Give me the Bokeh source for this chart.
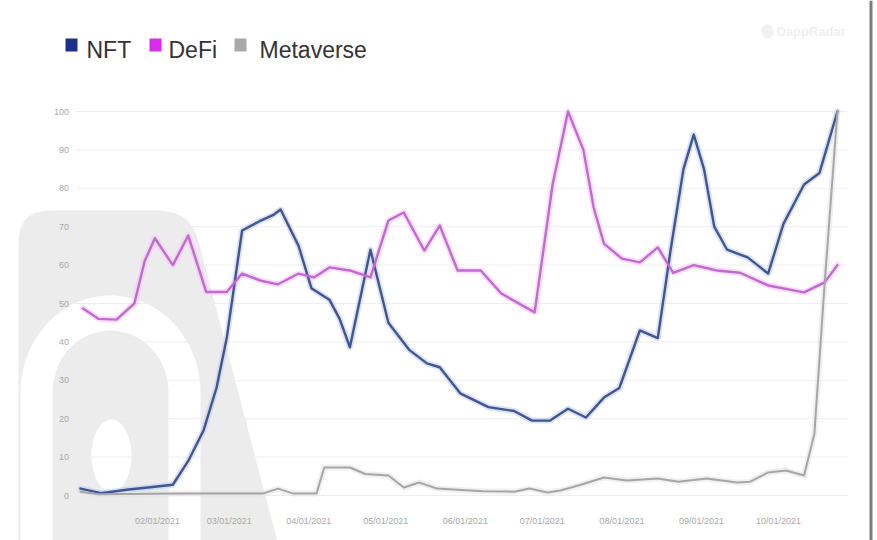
import numpy as np
import pandas as pd
from bokeh.plotting import figure
from bokeh.models import Range1d, PolyAnnotation, Label, ColumnDataSource
from bokeh.core.properties import value
from bokeh.embed import file_html
from bokeh.resources import INLINE

# ---- data: relative interest index (0-100), 2021 ----
nft_dates = ["2021-01-02", "2021-01-10", "2021-01-20", "2021-01-30", "2021-02-07",
             "2021-02-13", "2021-02-19", "2021-02-24", "2021-02-28", "2021-03-03",
             "2021-03-06", "2021-03-13", "2021-03-18", "2021-03-21", "2021-03-28",
             "2021-04-02", "2021-04-09", "2021-04-13", "2021-04-17", "2021-04-25",
             "2021-05-02", "2021-05-10", "2021-05-17", "2021-05-22", "2021-05-30",
             "2021-06-10", "2021-06-20", "2021-06-27", "2021-07-04", "2021-07-11",
             "2021-07-18", "2021-07-25", "2021-07-31", "2021-08-08", "2021-08-15",
             "2021-08-20", "2021-08-25", "2021-08-29", "2021-09-02", "2021-09-06",
             "2021-09-11", "2021-09-19", "2021-09-27", "2021-10-03", "2021-10-11",
             "2021-10-17", "2021-10-24"]
nft_values = [1.8, 0.6, 1.5, 2.2, 2.8,
              9, 17, 28, 41, 55,
              69, 71.5, 73, 74.5, 65,
              54, 51, 46, 38.6, 64,
              45, 38, 34.4, 33.4, 26.6,
              23, 22, 19.5, 19.5, 22.6,
              20.3, 25.5, 28, 43, 41,
              64, 85, 94, 85, 70,
              64, 62, 57.8, 70.8, 81,
              84, 100]

defi_dates = ["2021-01-03", "2021-01-09", "2021-01-16", "2021-01-23", "2021-01-27",
              "2021-01-31", "2021-02-07", "2021-02-13", "2021-02-20", "2021-02-28",
              "2021-03-06", "2021-03-13", "2021-03-20", "2021-03-28", "2021-04-03",
              "2021-04-09", "2021-04-17", "2021-04-25", "2021-05-02", "2021-05-08",
              "2021-05-16", "2021-05-22", "2021-05-29", "2021-06-07", "2021-06-15",
              "2021-06-28", "2021-07-05", "2021-07-11", "2021-07-17", "2021-07-21",
              "2021-07-25", "2021-08-01", "2021-08-08", "2021-08-15", "2021-08-21",
              "2021-08-29", "2021-09-07", "2021-09-16", "2021-09-27", "2021-10-11",
              "2021-10-19", "2021-10-24"]
defi_values = [48.7, 46, 45.8, 50, 61,
               67, 60, 67.7, 53, 53,
               57.8, 56, 55, 57.8, 56.8,
               59.4, 58.6, 56.8, 71.6, 73.7,
               63.8, 70.3, 58.6, 58.6, 52.6,
               47.7, 81, 100, 90, 75,
               65.6, 61.7, 60.7, 64.6, 58,
               60, 58.6, 58, 54.7, 52.9,
               55.5, 60]

meta_dates = ["2021-01-02", "2021-01-09", "2021-02-10", "2021-03-14", "2021-03-20",
              "2021-03-26", "2021-04-04", "2021-04-07", "2021-04-17", "2021-04-23",
              "2021-05-02", "2021-05-08", "2021-05-14", "2021-05-21", "2021-05-29",
              "2021-06-08", "2021-06-20", "2021-06-26", "2021-07-03", "2021-07-08",
              "2021-07-15", "2021-07-25", "2021-08-03", "2021-08-15", "2021-08-23",
              "2021-09-03", "2021-09-15", "2021-09-20", "2021-09-27", "2021-10-04",
              "2021-10-11", "2021-10-15", "2021-10-19", "2021-10-24"]
meta_values = [1.0, 0.3, 0.5, 0.5, 1.8,
               0.5, 0.5, 7.3, 7.3, 5.6,
               5.2, 2.1, 3.4, 1.8, 1.5,
               1.1, 1.0, 1.8, 0.8, 1.3,
               2.6, 4.7, 3.9, 4.4, 3.6,
               4.4, 3.4, 3.6, 6.0, 6.5,
               5.2, 16, 55, 100]

series_names = ["NFT", "DeFi", "Metaverse"]
series_colors = ["#3f5594", "#c468d6", "#a6a6a6"]
legend_colors = ["#1c2f8c", "#d82cec", "#a9a9a9"]
halo_colors = ["#bccaee", "#f4c4f6", "#e4e4e4"]

y_ticks = [0, 10, 20, 30, 40, 50, 60, 70, 80, 90, 100]
y_tick_labels = [str(v) for v in y_ticks]
x_tick_dates = ["2021-02-01", "2021-03-01", "2021-04-01", "2021-05-01", "2021-06-01",
                "2021-07-01", "2021-08-01", "2021-09-01", "2021-10-01"]
x_tick_labels = ["02/01/2021", "03/01/2021", "04/01/2021", "05/01/2021", "06/01/2021",
                 "07/01/2021", "08/01/2021", "09/01/2021", "10/01/2021"]

FONT = "Liberation Sans"

# ---- figure: the plotting frame spans the whole canvas ----
W, H = 877, 540
PX_PER_DAY = 2.566        # horizontal scale
PX_PER_UNIT = 3.84        # vertical scale
ORIGIN_X = 77.4           # pixel of 2021-01-01
ORIGIN_Y = 495.0          # pixel of value 0

t0 = pd.Timestamp("2021-01-01")
x_start = t0 - pd.Timedelta(days=ORIGIN_X / PX_PER_DAY)
x_end = x_start + pd.Timedelta(days=W / PX_PER_DAY)
y_top = ORIGIN_Y / PX_PER_UNIT
y_bottom = y_top - H / PX_PER_UNIT

p = figure(width=W, height=H, x_axis_type="datetime", title=None,
           output_backend="svg", toolbar_location=None,
           x_axis_location=None, y_axis_location=None, min_border=0)
p.x_range = Range1d(x_start, x_end)
p.y_range = Range1d(y_bottom, y_top)
p.outline_line_color = None
p.background_fill_color = "white"
p.border_fill_color = "white"
p.xgrid.visible = False
p.ygrid.visible = False


def to_screen(xs, ys):
    """canvas pixels (origin top-left) -> screen units (origin bottom-left)"""
    return [float(x) for x in xs], [float(H - y) for y in ys]


def rounded_polygon(pts, r, n=8):
    out = []
    m = len(pts)
    for i in range(m):
        p0 = np.array(pts[i - 1], float)
        p1 = np.array(pts[i], float)
        p2 = np.array(pts[(i + 1) % m], float)
        rr = r[i]
        if rr <= 0:
            out.append(p1)
            continue
        a = p1 + (p0 - p1) / np.linalg.norm(p0 - p1) * rr
        b = p1 + (p2 - p1) / np.linalg.norm(p2 - p1) * rr
        for t in np.linspace(0, 1, n):
            out.append((1 - t) ** 2 * a + 2 * (1 - t) * t * p1 + t ** 2 * b)
    arr = np.array(out)
    return arr[:, 0], arr[:, 1]


def stadium(cx, cy, rx, ry, bottom, n=40):
    ang = np.linspace(np.pi, 0, n)
    xs = np.concatenate([[cx - rx], cx + rx * np.cos(ang), [cx + rx]])
    ys = np.concatenate([[bottom], cy - ry * np.sin(ang), [bottom]])
    return xs, ys


def ellipse(cx, cy, rx, ry, n=48):
    ang = np.linspace(0, 2 * np.pi, n, endpoint=False)
    return cx + rx * np.cos(ang), cy + ry * np.sin(ang)


def add_shape(xs, ys, color, level="image"):
    sx, sy = to_screen(xs, ys)
    p.add_layout(PolyAnnotation(xs=sx, ys=sy, xs_units="screen", ys_units="screen",
                                fill_color=color, fill_alpha=1.0, line_color=None,
                                level=level))


def add_label(x, y, text, size, color, align="left", style="normal"):
    sx, sy = to_screen([x], [y])
    p.add_layout(Label(x=sx[0], y=sy[0], x_units="screen", y_units="screen", text=text,
                       text_font=FONT, text_font_size=size,
                       text_font_style=style, text_color=color,
                       text_baseline="middle", text_align=align))


# faint logo watermark behind the chart
wx, wy = rounded_polygon([(18, 545), (18, 210), (190, 210), (278, 545)], [0, 32, 32, 0])
add_shape(wx, wy, "#ececec")
sx_, sy_ = stadium(110, 392, 90, 97, 545)
add_shape(sx_, sy_, "#ffffff")
sx_, sy_ = stadium(110, 392, 58, 62, 545)
add_shape(sx_, sy_, "#ececec")
ex_, ey_ = ellipse(111, 455, 20, 36)
add_shape(ex_, ey_, "#ffffff")

# thin border at the right edge
add_shape([869, 872, 872, 869], [0, 0, H, H], "#7c7c7c")

# ---- horizontal grid lines and tick labels ----
grid_x0 = t0 - pd.Timedelta(days=1)
grid_x1 = pd.Timestamp("2021-10-28")
p.segment(x0=[grid_x0] * len(y_ticks), x1=[grid_x1] * len(y_ticks),
          y0=y_ticks, y1=y_ticks, line_color="#eeeeee", line_width=1)

ytick_src = ColumnDataSource(dict(x=[t0] * len(y_ticks), y=y_ticks, text=y_tick_labels))
p.text(x="x", y="y", text="text", source=ytick_src, x_offset=-9,
       text_align="right", text_baseline="middle", text_font=value(FONT),
       text_font_size="9px", text_color="#a8a8a8")

xtick_src = ColumnDataSource(dict(x=pd.to_datetime(x_tick_dates), y=[0] * len(x_tick_dates),
                                  text=x_tick_labels))
p.text(x="x", y="y", text="text", source=xtick_src, y_offset=25,
       text_align="center", text_baseline="middle", text_font=value(FONT),
       text_font_size="9px", text_color="#a8a8a8")

# ---- lines ----
all_dates = [nft_dates, defi_dates, meta_dates]
all_values = [nft_values, defi_values, meta_values]
widths = [2.4, 2.4, 2.0]
for dates, vals, halo in zip(all_dates, all_values, halo_colors):
    p.line(pd.to_datetime(dates), vals, line_width=6, line_color=halo,
           line_alpha=0.55, line_join="round", line_cap="round")
for dates, vals, col, w in zip(all_dates, all_values, series_colors, widths):
    p.line(pd.to_datetime(dates), vals, line_width=w, line_color=col,
           line_join="round", line_cap="round")

# ---- legend (top-left) ----
legend_square_x = [65, 149, 234]
legend_text_x = [86, 168, 259]
for name, col, qx, tx in zip(series_names, legend_colors, legend_square_x, legend_text_x):
    add_shape([qx, qx + 12, qx + 12, qx], [38, 38, 51, 51], col, level="annotation")
    add_label(tx, 49, name, "23px", "#333333")

# faint brand mark top-right
add_label(776, 31, "DappRadar", "13px", "#f0f0f0", style="bold")
cx_, cy_ = ellipse(767, 31, 6, 7)
add_shape(cx_, cy_, "#f1f1f1", level="annotation")

open("out.html", "w").write(file_html(p, INLINE))
